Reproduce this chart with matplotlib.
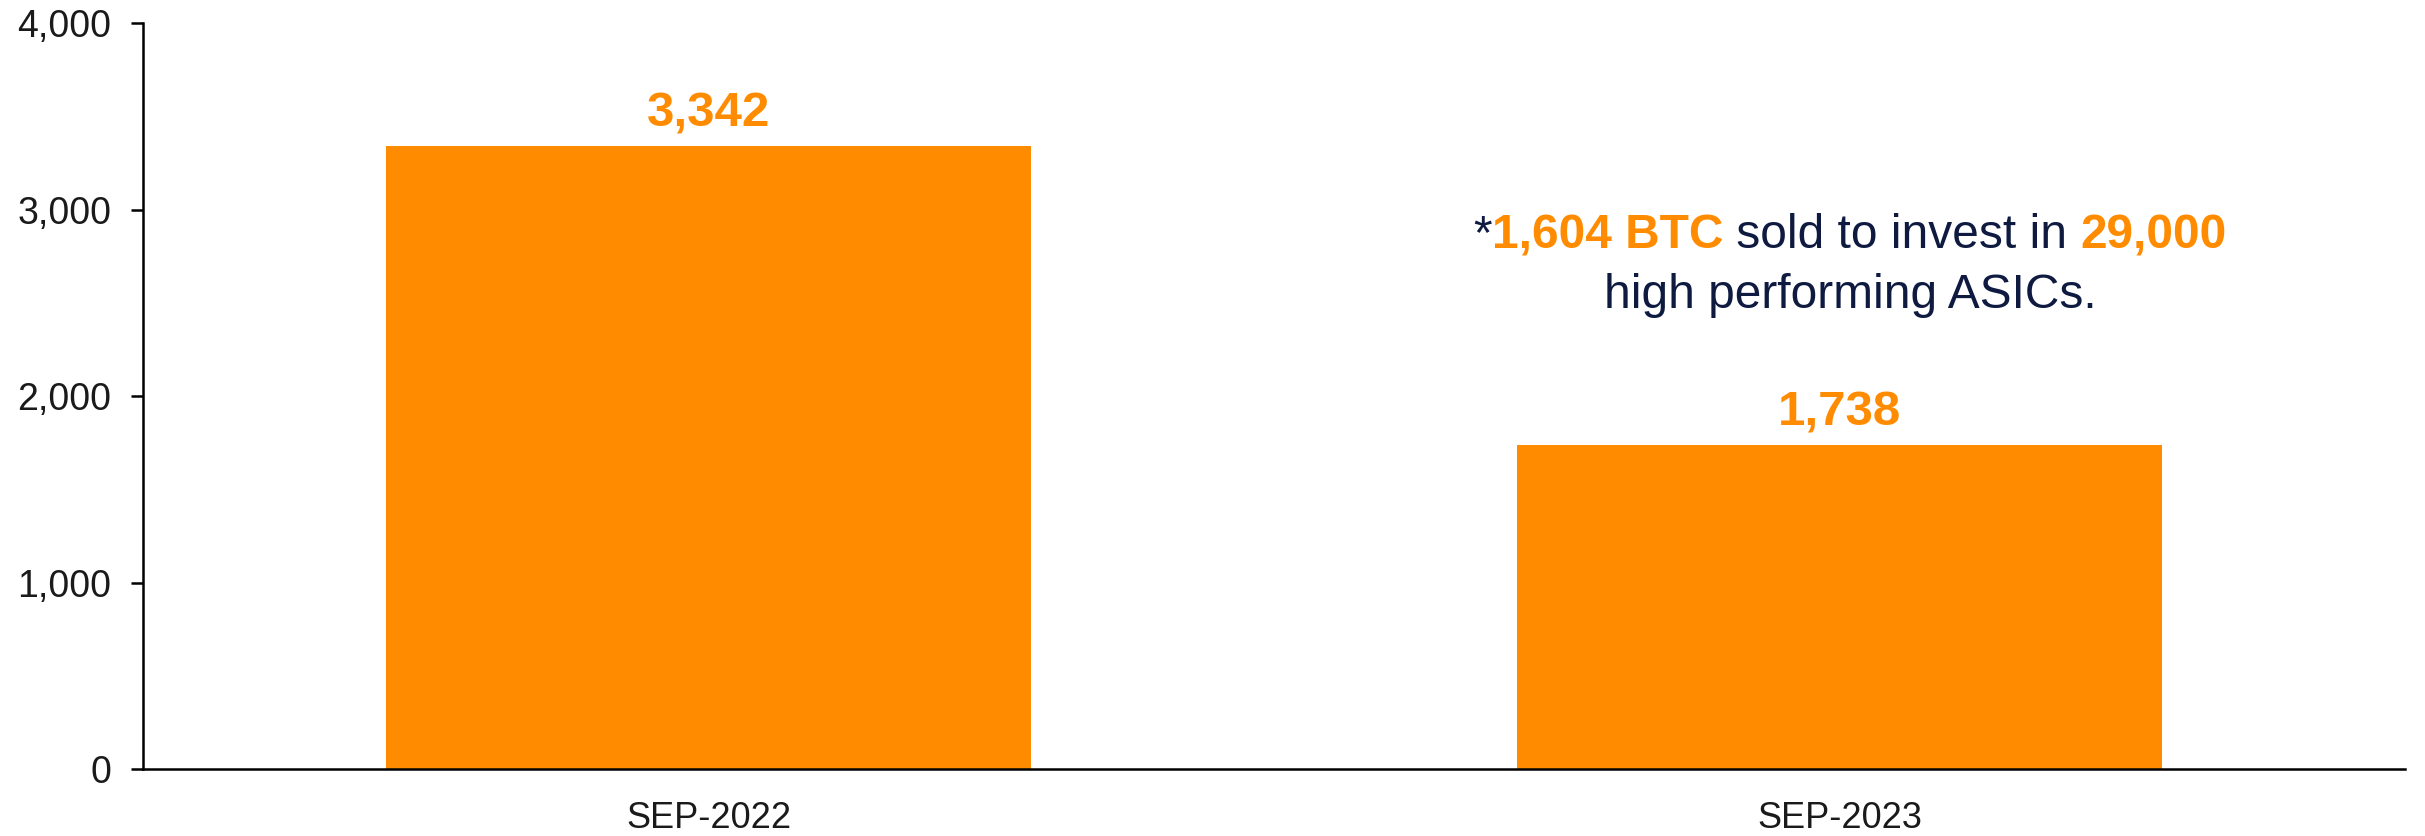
#!/usr/bin/env python3

import matplotlib
matplotlib.use("Agg")
import matplotlib.pyplot as plt
from matplotlib.ticker import FuncFormatter

periods = ["SEP-2022", "SEP-2023"]
btc_held = [3342, 1738]
btc_sold = "1,604 BTC"
asics_bought = "29,000"

ORANGE = "#FF8C00"
NAVY = "#0E1A40"
INK = "#1A1A1A"

plt.rcParams["font.family"] = ["Liberation Sans", "DejaVu Sans"]


def main():
    fig = plt.figure(figsize=(24.25, 8.36), dpi=100)
    ax = fig.add_axes([0.059, 0.0801, 0.9328, 0.8924])

    x = range(len(periods))
    bars = ax.bar(x, btc_held, width=0.57, color=ORANGE)

    for rect, v in zip(bars, btc_held):
        ax.annotate(f"{v:,}", (rect.get_x() + rect.get_width() / 2, v),
                    xytext=(0, 14), textcoords="offset points",
                    ha="center", va="baseline", fontsize=35.5,
                    fontweight="bold", color=ORANGE)

    ax.set_xlim(-0.5, 1.5)
    ax.set_ylim(0, 4000)
    ax.set_yticks([0, 1000, 2000, 3000, 4000])
    ax.yaxis.set_major_formatter(FuncFormatter(lambda v, p: f"{v:,.0f}"))
    ax.set_xticks(list(x))
    ax.set_xticklabels(periods)

    for s in ["top", "right"]:
        ax.spines[s].set_visible(False)
    for s in ["left", "bottom"]:
        ax.spines[s].set_linewidth(1.8)
        ax.spines[s].set_color("black")

    ax.tick_params(axis="y", length=9, width=1.8, pad=14,
                   labelsize=27, labelcolor=INK)
    ax.tick_params(axis="x", length=0, pad=23,
                   labelsize=26, labelcolor=INK)

    # two-line note, first line built from coloured pieces
    fs = 34.5
    parts = [("*", NAVY, "normal"), (btc_sold, ORANGE, "bold"),
             (" sold to invest in ", NAVY, "normal"),
             (asics_bought, ORANGE, "bold")]
    cx, y1 = 1850 / 2425, 1 - 248 / 836
    first = fig.text(cx, y1, parts[0][0], color=parts[0][1],
                     fontweight=parts[0][2], fontsize=fs, va="baseline")
    pieces = [first]
    prev = first
    for txt, col, wt in parts[1:]:
        prev = ax.annotate(txt, xy=(1, 0), xycoords=prev, va="bottom",
                           ha="left", color=col, fontweight=wt, fontsize=fs,
                           annotation_clip=False)
        pieces.append(prev)

    fig.canvas.draw()
    r = fig.canvas.get_renderer()
    x0 = pieces[0].get_window_extent(r).x0
    x1 = pieces[-1].get_window_extent(r).x1
    width = (x1 - x0) / fig.bbox.width
    first.set_x(cx - width / 2)

    fig.text(cx, 1 - 308 / 836, "high performing ASICs.", color=NAVY,
             fontsize=fs, ha="center", va="baseline")

    fig.savefig("out.png", dpi=100)


if __name__ == "__main__":
    main()
